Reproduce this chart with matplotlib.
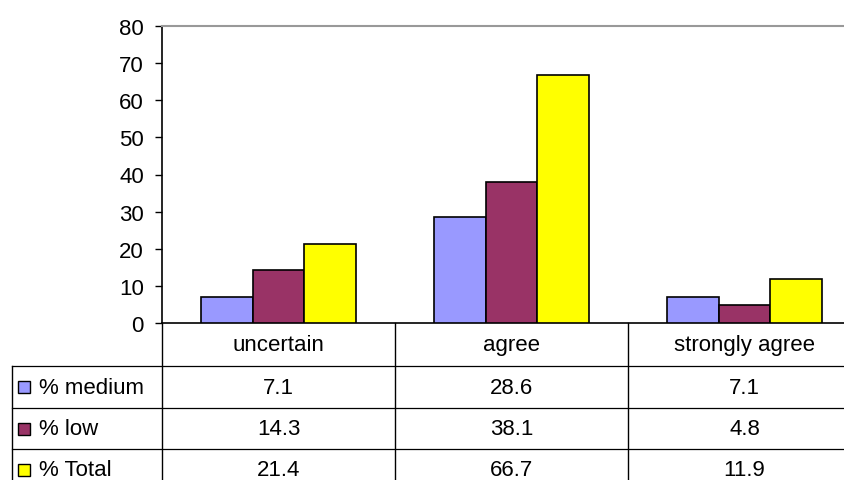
import matplotlib
matplotlib.use("Agg")
import matplotlib.pyplot as plt
import numpy as np
from matplotlib.lines import Line2D
from matplotlib.patches import Rectangle
from matplotlib.transforms import blended_transform_factory

# datos
categorias = ["uncertain", "agree", "strongly agree"]
series = ["% medium", "% low", "% Total"]
medio = [7.1, 28.6, 7.1]
bajo = [14.3, 38.1, 4.8]
total = [21.4, 66.7, 11.9]
colores = ["#9999FF", "#993366", "#FFFF00"]

plt.rcParams["font.family"] = ["Liberation Sans", "DejaVu Sans"]
fs = 16

W, H = 844, 481
fig = plt.figure(figsize=(W / 100, H / 100), dpi=100)

def fx(x):
    return x / W

def fy(y):
    return 1 - y / H

# area del grafico (se sale por la derecha como en la imagen)
ax = fig.add_axes([fx(162), fy(324), fx(861) - fx(162), fy(27) - fy(324)])

x = np.arange(len(categorias))
w = 1 / 4.5
for i, (vals, c) in enumerate(zip([medio, bajo, total], colores)):
    ax.bar(x + (i - 1) * w, vals, width=w, color=c, edgecolor="black",
           linewidth=1.2, zorder=3)

ax.set_xlim(-0.5, 2.5)
ax.set_ylim(0, 80)
ax.set_yticks(range(0, 81, 10))
ax.set_xticks([])
ax.tick_params(axis="y", labelsize=fs, length=5, width=1, pad=8)
ax.spines["left"].set_linewidth(1.2)
ax.spines["bottom"].set_linewidth(1.2)
ax.spines["top"].set_color("#999999")
ax.spines["top"].set_linewidth(1.5)
ax.spines["right"].set_visible(False)

# tabla de datos
tr = blended_transform_factory(ax.transData, fig.transFigure)
filas = [324, 367, 409, 450, 492]

def linea(xs, ys, t, lw=1.0, color="black"):
    fig.add_artist(Line2D(xs, ys, transform=t, color=color, lw=lw, clip_on=False))

# verticales de columnas
for b in [-0.5, 0.5, 1.5]:
    linea([b, b], [fy(filas[0]), fy(filas[-1])], tr, lw=1.0)
# borde izquierdo de etiquetas
linea([fx(12), fx(12)], [fy(filas[1]), fy(filas[-1])], fig.transFigure)
# horizontales
for yy in filas[1:4]:
    linea([fx(12), fx(870)], [fy(yy), fy(yy)], fig.transFigure, lw=0.9)

# encabezados
for i, cat in enumerate(categorias):
    fig.text(i, fy((filas[0] + filas[1]) / 2), cat, transform=tr, fontsize=fs,
             ha="center", va="center")

for r, (nombre, vals, c) in enumerate(zip(series, [medio, bajo, total], colores)):
    yc = fy((filas[r + 1] + filas[r + 2]) / 2)
    fig.add_artist(Rectangle((fx(18), yc - 6 / H), 12 / W, 12 / H,
                             transform=fig.transFigure, facecolor=c,
                             edgecolor="black", linewidth=1.0))
    fig.text(fx(39), yc, nombre, fontsize=fs, ha="left", va="center")
    for i, v in enumerate(vals):
        fig.text(i, yc, f"{v:.1f}", transform=tr, fontsize=fs,
                 ha="center", va="center")

fig.savefig("out.png", dpi=100)
